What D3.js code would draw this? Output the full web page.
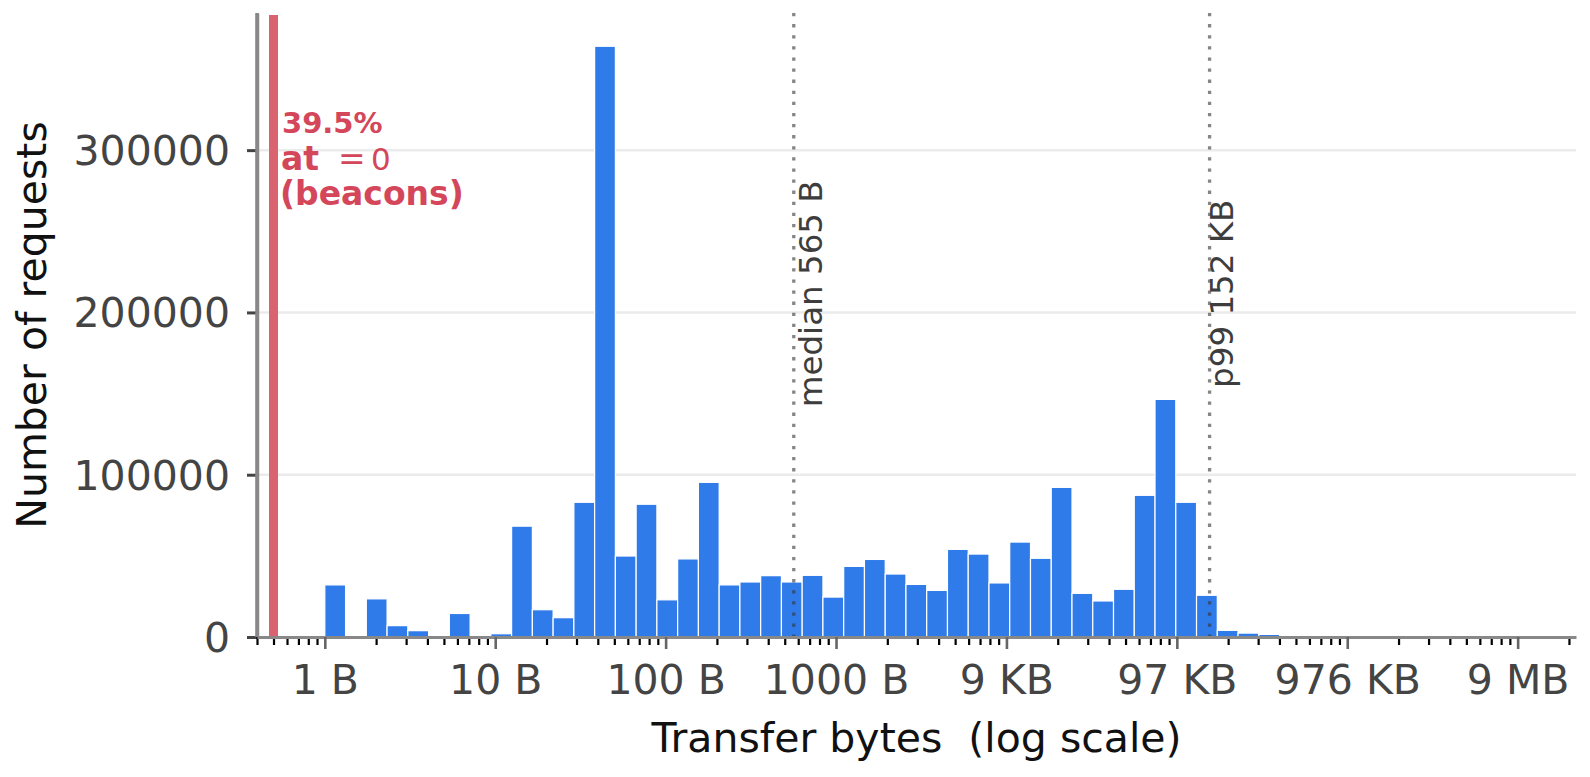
<!DOCTYPE html>
<html>
<head>
<meta charset="utf-8">
<script src="https://cdn.jsdelivr.net/npm/d3@7"></script>
<style>
  html, body { margin: 0; padding: 0; background: #fff; }
  svg { display: block; }
</style>
</head>
<body>
<div class="canvas"></div>
<script>
// requests per log-spaced bin, first bin starts at 1 byte
const binCounts = [
  32100, 0, 23500, 7000, 3900, 0, 14500, 0, 2000, 68300,
  16800, 11900, 83000, 364000, 49900, 81800, 22900, 48100, 95300, 32100,
  33900, 37800, 33900, 38000, 24600, 43500, 47800, 38800, 32400, 28700,
  54000, 51100, 33300, 58500, 48500, 92200, 26900, 22200, 29400, 87300,
  146400, 83000, 25700, 4100, 2400, 1600, 1000, 500
];
const binFirstEdge = 1;
const binWidthLog10 = 0.1218;

const yTickValues = [0, 100000, 200000, 300000];
const xTickValues = [1, 10, 100, 1000, 10000, 100000, 1000000, 10000000];
const xTickLabels = ["1 B", "10 B", "100 B", "1000 B", "9 KB", "97 KB", "976 KB", "9 MB"];

const markerValues = [565, 152 * 1024];
const markerLabels = ["median 565 B", "p99 152 KB"];

const beaconValue = 0.5;   // zero-byte requests drawn at 0.5 B
const beaconShare = "39.5%";

const width = 1590, height = 777;
const font = "'DejaVu Sans', sans-serif";

const x = d3.scaleLog().domain([0.4, 2.2e7]).range([257, 1576]);
const y = d3.scaleLinear().domain([0, 384500]).range([637, 13]);

const bins = binCounts.map((c, i) => ({
  x0: binFirstEdge * Math.pow(10, i * binWidthLog10),
  x1: binFirstEdge * Math.pow(10, (i + 1) * binWidthLog10),
  count: c
}));

const svg = d3.select('.canvas')
  .append('svg')
  .attr('width', width)
  .attr('height', height)
  .attr('viewBox', [0, 0, width, height])
  .style('font-family', font);

svg.append('rect').attr('width', width).attr('height', height).attr('fill', '#fff');

// grid
svg.append('g')
  .selectAll('line')
  .data(yTickValues.filter(d => d > 0))
  .join('line')
  .attr('x1', x.range()[0]).attr('x2', x.range()[1])
  .attr('y1', d => y(d)).attr('y2', d => y(d))
  .attr('stroke', '#ebebeb')
  .attr('stroke-width', 2.5);

// bars
svg.append('g')
  .selectAll('rect')
  .data(bins.filter(d => d.count > 0))
  .join('rect')
  .attr('x', d => x(d.x0))
  .attr('width', d => x(d.x1) - x(d.x0))
  .attr('y', d => y(d.count))
  .attr('height', d => y(0) - y(d.count))
  .attr('fill', '#2f7be9')
  .attr('stroke', '#fff')
  .attr('stroke-width', 1.2);

// beacons line
svg.append('line')
  .attr('x1', x(beaconValue)).attr('x2', x(beaconValue))
  .attr('y1', y.range()[1] + 2).attr('y2', y(0))
  .attr('stroke', '#d9636f')
  .attr('stroke-width', 9);

// median / p99
svg.append('g')
  .selectAll('line')
  .data(markerValues)
  .join('line')
  .attr('x1', d => x(d)).attr('x2', d => x(d))
  .attr('y1', y.range()[1]).attr('y2', y(0))
  .attr('stroke', '#333')
  .attr('stroke-opacity', 0.6)
  .attr('stroke-width', 3.3)
  .attr('stroke-dasharray', '3.3 7.8');

const labelShift = [28, 23.5];
svg.append('g')
  .selectAll('text')
  .data(markerValues)
  .join('text')
  .attr('transform', (d, i) => `translate(${x(d) + labelShift[i]},${y(211500)}) rotate(-90)`)
  .attr('text-anchor', 'middle')
  .attr('font-size', 32.5)
  .attr('fill', '#3d3d3d')
  .text((d, i) => markerLabels[i]);

// y axis
const yAxis = svg.append('g')
  .attr('transform', `translate(${x.range()[0]},0)`)
  .call(d3.axisLeft(y).tickValues(yTickValues).tickSize(10).tickSizeOuter(0).tickPadding(17).tickFormat(d3.format('d')));
yAxis.select('.domain').attr('stroke', '#888').attr('stroke-width', 3.5);
yAxis.selectAll('.tick line').attr('stroke', '#444').attr('stroke-width', 3);
yAxis.selectAll('.tick text')
  .attr('font-size', 41).attr('fill', '#444')
  .attr('font-family', font)
  .attr('dy', '0.35em');

// x axis: minor ticks
const minorTicks = x.ticks().filter(d => !xTickValues.includes(d));
const xMinor = svg.append('g')
  .attr('transform', `translate(0,${y(0)})`)
  .call(d3.axisBottom(x).tickValues(minorTicks).tickSize(8).tickSizeOuter(0).tickFormat(''));
xMinor.select('.domain').remove();
xMinor.selectAll('.tick line').attr('stroke', '#000').attr('stroke-width', 2.2);

// x axis: major ticks
const xAxis = svg.append('g')
  .attr('transform', `translate(0,${y(0)})`)
  .call(d3.axisBottom(x).tickValues(xTickValues).tickSize(12).tickSizeOuter(0).tickPadding(16)
    .tickFormat((d, i) => xTickLabels[i]));
xAxis.select('.domain').attr('stroke', '#888').attr('stroke-width', 3);
xAxis.selectAll('.tick line').attr('stroke', '#666').attr('stroke-width', 2.6);
xAxis.selectAll('.tick text')
  .attr('font-size', 41).attr('fill', '#444')
  .attr('font-family', font);

// left spine on top
svg.append('line')
  .attr('x1', x.range()[0]).attr('x2', x.range()[0])
  .attr('y1', y.range()[1]).attr('y2', y(0))
  .attr('stroke', '#888').attr('stroke-width', 3.5);

// axis titles
svg.append('text')
  .attr('x', (x.range()[0] + x.range()[1]) / 2)
  .attr('y', 752)
  .attr('text-anchor', 'middle')
  .attr('font-size', 41)
  .attr('fill', '#111')
  .style('white-space', 'pre')
  .text('Transfer bytes  (log scale)');

svg.append('text')
  .attr('transform', `translate(46,${(y.range()[0] + y.range()[1]) / 2}) rotate(-90)`)
  .attr('text-anchor', 'middle')
  .attr('font-size', 41)
  .attr('fill', '#111')
  .text('Number of requests');

// beacon annotation
const note = svg.append('g')
  .attr('fill', '#d4475b')
  .attr('font-size', 33);
note.append('text').attr('x', 282).attr('y', 132.5)
  .attr('font-weight', 'bold').attr('font-size', 29).text(beaconShare);
note.append('text').attr('x', 281).attr('y', 170).attr('font-weight', 'bold').text('at');
note.append('text').attr('x', 338).attr('y', 170).text('=');
note.append('text').attr('x', 371).attr('y', 170).attr('font-size', 31).text('0');
note.append('text').attr('x', 280).attr('y', 205).attr('font-weight', 'bold').text('(beacons)');
</script>
</body>
</html>
